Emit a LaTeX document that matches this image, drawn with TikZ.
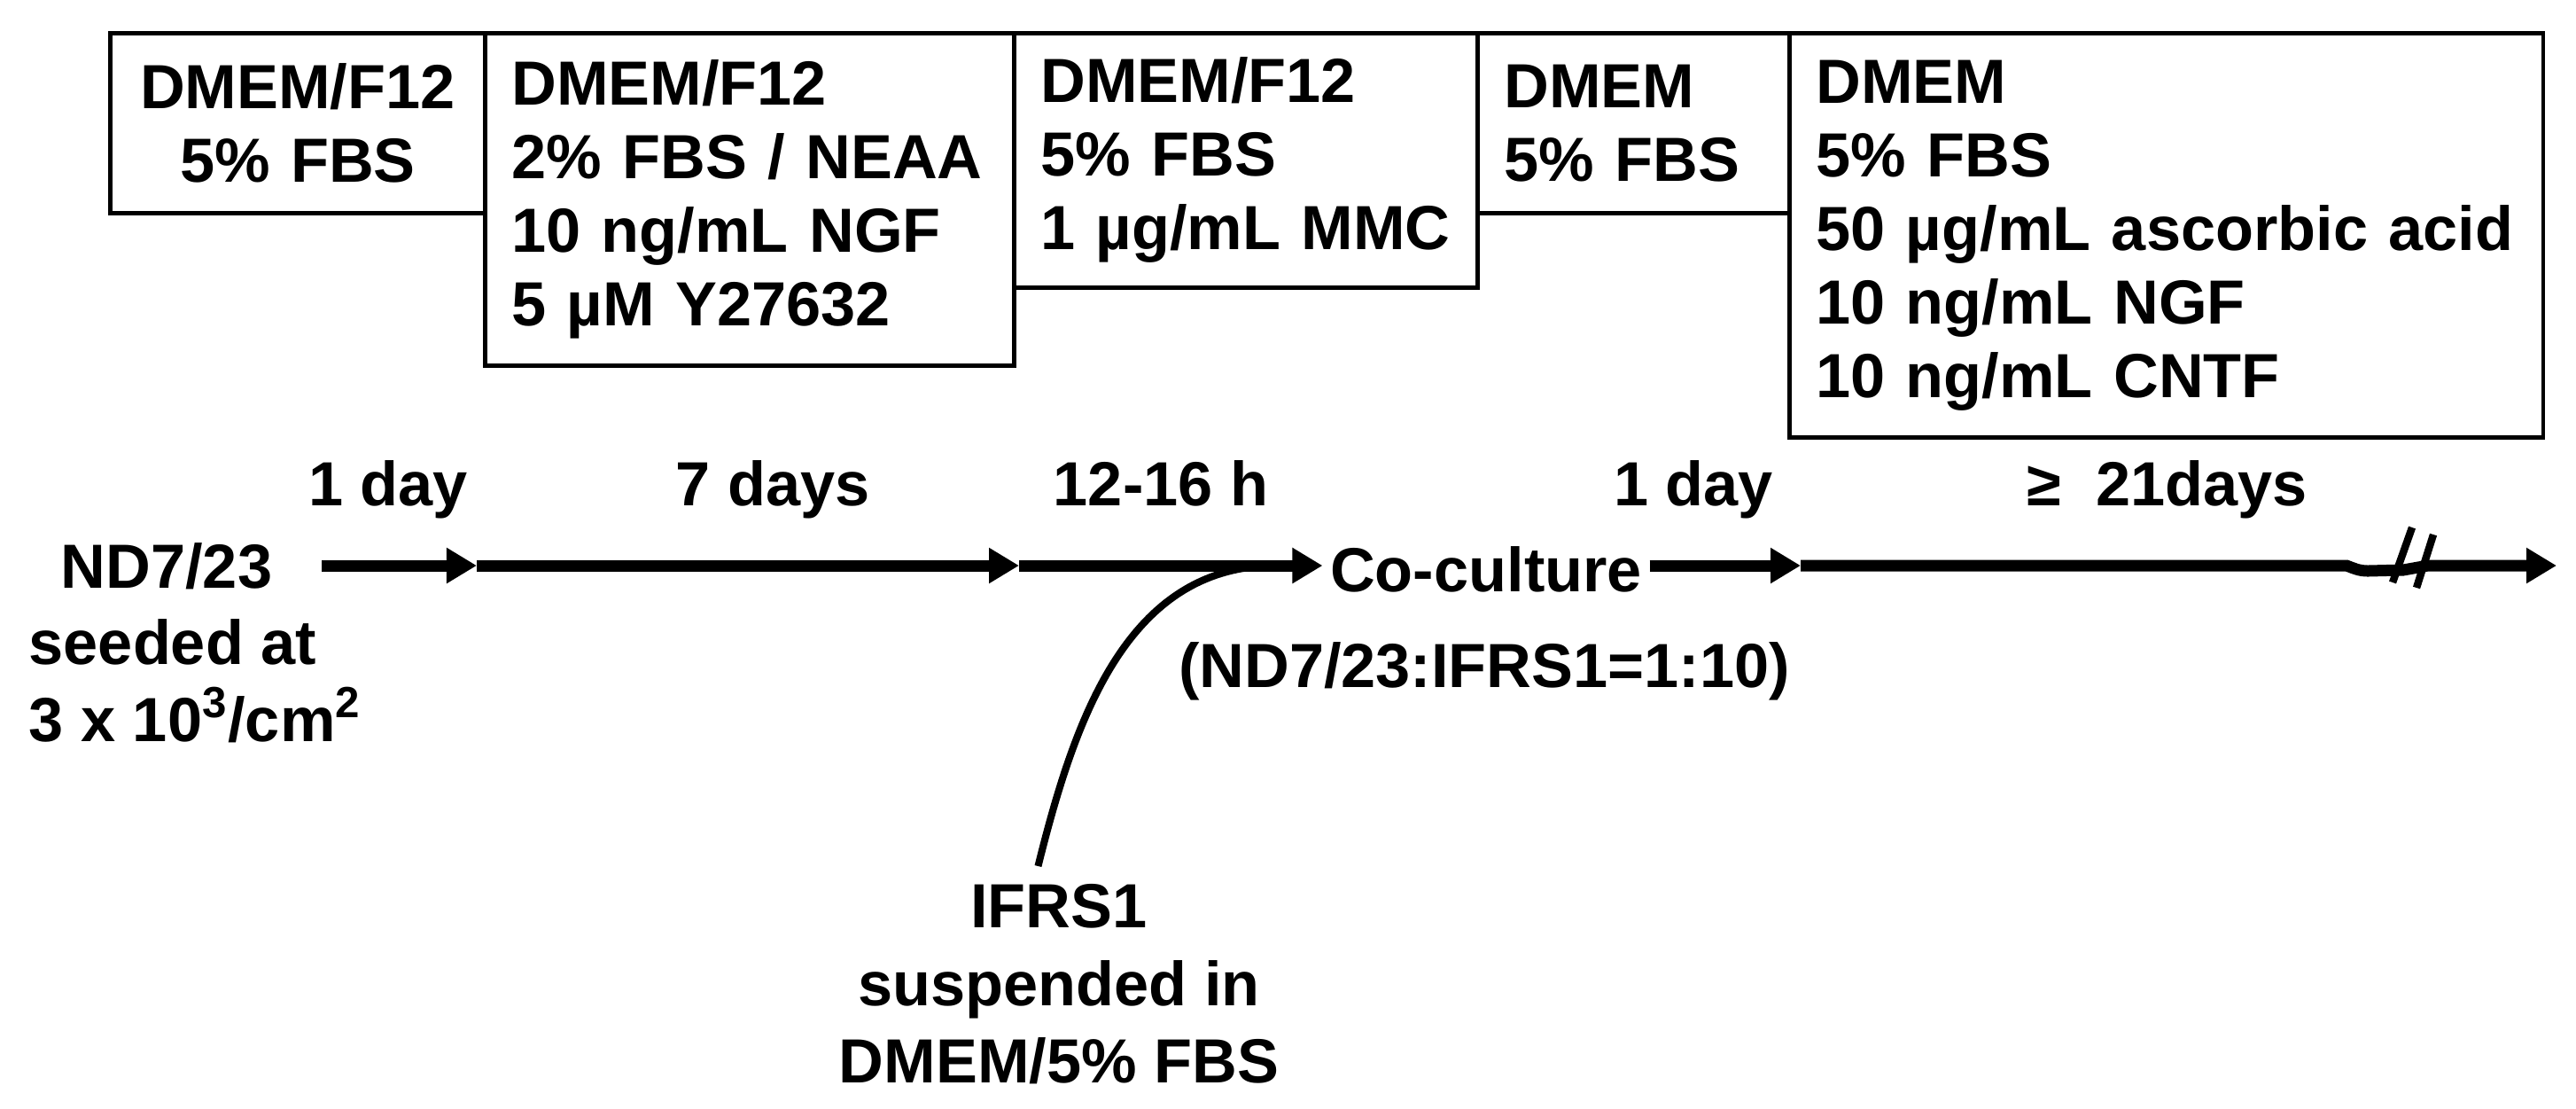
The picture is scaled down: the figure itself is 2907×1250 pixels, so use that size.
\documentclass[tikz,border=0pt]{standalone}
\usepackage{fontspec}
\setmainfont{Liberation Sans}
\usetikzlibrary{arrows.meta}

\begin{document}
\begin{tikzpicture}[x=0.01cm,y=-0.01cm,
    mediumbox/.style={draw,line width=1.3pt,anchor=north west,inner xsep=0.3cm,inner ysep=0pt,font=\boxfontsize\bfseries,align=left},
    timeline/.style={line width=3.7pt},
    arrowed/.style={-{Triangle[length=3.4mm,width=3.8mm]}},
    period/.style={anchor=base,inner sep=0pt,font=\textfontsize\bfseries}]
    \pgfmathsetmacro{\boxtop}{35}
    \pgfmathsetmacro{\liney}{638}
    \pgfmathsetmacro{\daybase}{570}
    \providecommand{\boxfontsize}{\fontsize{20pt}{23.6pt}\selectfont}
    \providecommand{\textfontsize}{\fontsize{20pt}{24.5pt}\selectfont}
    \useasboundingbox (0,0) rectangle (2907,1250);
    % media on top
    \node[mediumbox,align=center,text width=3.63cm,minimum height=2.03cm] (m1) at (122,\boxtop) {DMEM/F12\\5\% FBS};
    \node[mediumbox,text width=5.37cm,minimum height=3.75cm] (m2) at (545,\boxtop) {DMEM/F12\\2\% FBS / NEAA\\10 ng/mL NGF\\5 µM Y27632};
    \node[mediumbox,text width=4.63cm,minimum height=2.87cm] (m3) at (1142,\boxtop) {DMEM/F12\\5\% FBS\\1 µg/mL MMC};
    \node[mediumbox,text width=2.92cm,minimum height=2.03cm] (m4) at (1665,\boxtop) {DMEM\\5\% FBS};
    \node[mediumbox,text width=7.90cm,minimum height=4.56cm] (m5) at (2017,\boxtop) {DMEM\\5\% FBS\\50 µg/mL ascorbic acid\\10 ng/mL NGF\\10 ng/mL CNTF};
    % durations
    \node[period] (p1) at (438,\daybase) {1 day};
    \node[period] (p2) at (872,\daybase) {7 days};
    \node[period] (p3) at (1310,\daybase) {12-16 h};
    \node[period] (p4) at (1911,\daybase) {1 day};
    \node[period] (p5) at (2446,\daybase) {≥\ \ 21days};
    % cells
    \node[anchor=north west,align=left,inner sep=0pt,font=\textfontsize\bfseries] (nd) at (32,612) {\hspace*{0.36cm}ND7/23\\seeded at\\3 x 10\textsuperscript{3}/cm\textsuperscript{2}};
    \node[anchor=base,inner xsep=0.08cm,inner ysep=0pt,font=\textfontsize\bfseries] (cc) at (1677,667) {Co-culture};
    \node[anchor=base,inner sep=0pt,font=\textfontsize\bfseries] (ratio) at (1675,775) {(ND7/23:IFRS1=1:10)};
    \node[anchor=north,align=center,inner sep=0.2cm,font=\fontsize{20pt}{24.9pt}\selectfont\bfseries] (ifrs) at (1195,977) {IFRS1\\suspended in\\DMEM/5\% FBS};
    % time line
    \coordinate (start) at (363,\liney);
    \coordinate (day1) at (538,\liney);
    \coordinate (day8) at (1150,\liney);
    \coordinate (merge) at (1440,\liney);
    \coordinate (day9) at (2032,\liney);
    \coordinate (brka) at (2648,\liney);
    \coordinate (brkb) at (2740,\liney);
    \coordinate (finish) at (2885,\liney);
    \draw[timeline,arrowed] (start) -- (day1);
    \draw[timeline,arrowed] (day1) -- (day8);
    \draw[timeline,arrowed] (day8) -- (cc.west |- day8);
    \draw[timeline,arrowed] (cc.east |- day9) -- (day9);
    \draw[timeline,arrowed] (day9) -- (brka) .. controls (2656,641) and (2662,644) .. (2672,644) -- (2712,643) -- (brkb) -- (finish);
    \draw[line width=2.4pt] (2700,657) -- (2722,595);
    \draw[line width=2.4pt] (2727,663) -- (2746,603);
    \draw[line width=2.3pt] (ifrs.100) to[out=76,in=180] (merge);
\end{tikzpicture}
\end{document}
